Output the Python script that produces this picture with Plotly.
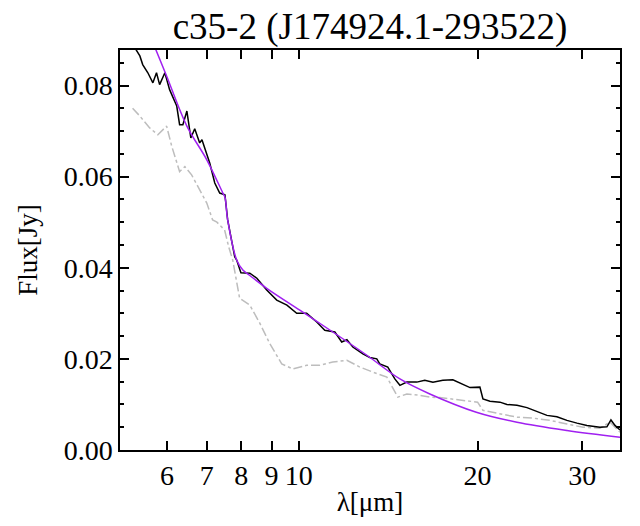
import plotly.graph_objects as go

# spectre observé (noir)
wl_obs = [5.25, 5.40, 5.46, 5.57, 5.68, 5.76, 5.83, 5.95, 6.06, 6.23, 6.30, 6.38, 6.48, 6.58,
          6.68, 6.81, 6.87, 7.00, 7.08, 7.22, 7.36, 7.51, 7.59, 7.80, 7.86, 7.99, 8.27, 8.50,
          8.83, 9.18, 9.55, 9.92, 10.31, 10.72, 11.06, 11.50, 11.81, 12.05, 12.33, 12.82,
          13.17, 13.53, 13.69, 14.12, 14.51, 14.80, 15.20, 15.80, 16.30, 16.82, 17.48, 18.17,
          18.82, 19.42, 20.18, 20.42, 20.98, 21.81, 22.41, 23.30, 24.22, 25.17, 26.17, 27.20,
          28.28, 29.40, 30.56, 32.14, 33.02, 33.54, 34.07, 34.74]
flux_obs = [0.0891, 0.0865, 0.0846, 0.0828, 0.0806, 0.0828, 0.0802, 0.0828, 0.0791, 0.0755,
            0.0714, 0.0714, 0.0744, 0.0685, 0.0705, 0.0674, 0.0681, 0.0648, 0.0630, 0.0586,
            0.0564, 0.0560, 0.0505, 0.0424, 0.0417, 0.0389, 0.0388, 0.0377, 0.0351, 0.0329,
            0.0318, 0.0300, 0.0300, 0.0281, 0.0263, 0.0259, 0.0237, 0.0242, 0.0226, 0.0211,
            0.0203, 0.0200, 0.0189, 0.0182, 0.0156, 0.0142, 0.0149, 0.0149, 0.0153, 0.0149,
            0.0153, 0.0154, 0.0145, 0.0137, 0.0138, 0.0112, 0.0107, 0.0105, 0.0100, 0.0098,
            0.0093, 0.0085, 0.0076, 0.0073, 0.0065, 0.0059, 0.0054, 0.0050, 0.0051, 0.0066,
            0.0054, 0.0044]

# modèle ajusté (violet)
wl_fit = [5.65, 5.74, 5.99, 6.48, 7.00, 7.45, 7.51, 7.59, 7.86, 8.05, 8.27, 8.83, 10.04,
          11.41, 13.02, 14.80, 16.62, 19.90, 23.30, 28.28, 34.74]
flux_fit = [0.0902, 0.0880, 0.0821, 0.0711, 0.0637, 0.0564, 0.0555, 0.0505, 0.0417, 0.0395,
            0.0383, 0.0355, 0.0307, 0.0259, 0.0208, 0.0156, 0.0123, 0.0083, 0.0061, 0.0043,
            0.0028]

# spectre de comparaison (gris, tiret-point)
wl_ref = [5.25, 5.40, 5.61, 5.79, 5.99, 6.11, 6.30, 6.43, 6.60, 6.81, 7.00, 7.16, 7.28, 7.50,
          7.62, 7.74, 7.95, 8.27, 8.60, 8.94, 9.36, 9.77, 10.31, 10.85, 11.41, 12.05, 12.67,
          13.33, 14.07, 14.68, 15.20, 15.99, 16.62, 17.28, 18.67, 20.00, 20.42, 21.81, 23.30,
          24.79, 26.48, 28.28, 30.09, 32.14, 33.41, 34.74]
flux_ref = [0.0750, 0.0733, 0.0707, 0.0692, 0.0711, 0.0667, 0.0611, 0.0622, 0.0604, 0.0571,
            0.0542, 0.0505, 0.0500, 0.0483, 0.0446, 0.0417, 0.0333, 0.0318, 0.0278, 0.0233,
            0.0189, 0.0178, 0.0186, 0.0186, 0.0193, 0.0197, 0.0182, 0.0171, 0.0160, 0.0116,
            0.0123, 0.0120, 0.0116, 0.0115, 0.0109, 0.0105, 0.0087, 0.0079, 0.0072, 0.0070,
            0.0065, 0.0057, 0.0050, 0.0048, 0.0061, 0.0039]

x_ticks = [6, 7, 8, 9, 10, 20, 30]
y_ticks = [0.00, 0.02, 0.04, 0.06, 0.08]

serif = "'Liberation Serif', 'Times New Roman', Times, serif"

fig = go.Figure()
fig.add_trace(go.Scatter(x=wl_ref, y=flux_ref, mode="lines",
                         line=dict(color="#bdbdbd", width=1.5, dash="dashdot")))
fig.add_trace(go.Scatter(x=wl_obs, y=flux_obs, mode="lines",
                         line=dict(color="black", width=1.5)))
fig.add_trace(go.Scatter(x=wl_fit, y=flux_fit, mode="lines", line_shape="spline",
                         line=dict(color="#a020f0", width=1.5)))

axe = dict(showline=True, linecolor="black", linewidth=1.5, mirror="allticks",
           ticks="inside", tickcolor="black", tickwidth=1.5, ticklen=9,
           showgrid=False, zeroline=False, automargin=False)

fig.update_xaxes(type="log", range=[0.69897, 1.5408], tickvals=x_ticks,
                 ticktext=[str(v) for v in x_ticks],
                 title=dict(text="λ[μm]", standoff=2,
                            font=dict(family=serif, size=27, color="black")), **axe)
fig.update_yaxes(range=[0, 0.0878], tickvals=y_ticks, tickformat=".2f",
                 minor=dict(ticks="inside", ticklen=4, dtick=0.005, tickcolor="black",
                            tickwidth=1.5, showgrid=False),
                 title=dict(text="Flux[Jy]", standoff=18,
                            font=dict(family=serif, size=27, color="black")), **axe)

# la page ajoute 8 px de marge autour de la figure
fig.update_layout(
    width=624, height=510,
    margin=dict(l=112, r=12, t=42, b=68),
    plot_bgcolor="white", paper_bgcolor="white",
    font=dict(family=serif, size=28, color="black"),
    title=dict(text="c35-2 (J174924.1-293522)", xref="paper", x=0.5, xanchor="center",
               y=0.964, yanchor="middle", font=dict(family=serif, size=37, color="black")),
    showlegend=False,
)

fig.write_html("out.html")
